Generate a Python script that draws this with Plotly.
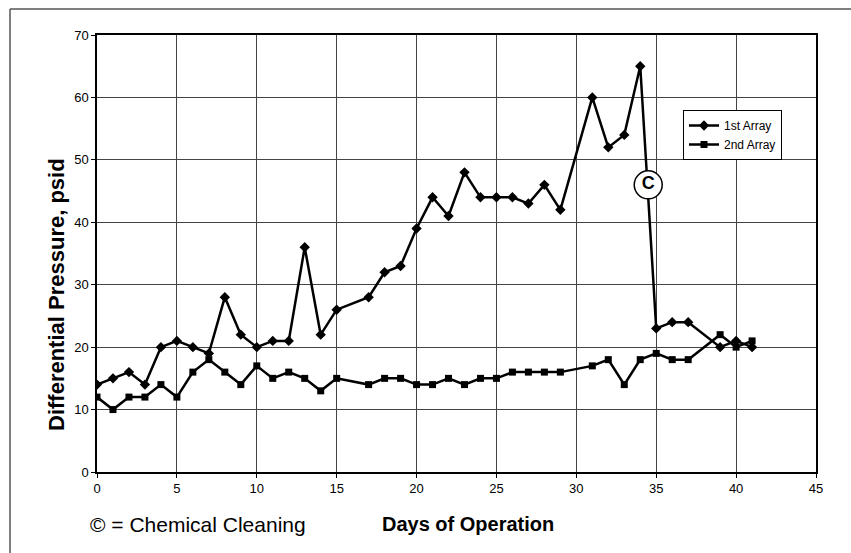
import plotly.graph_objects as go

days1 = [0, 1, 2, 3, 4, 5, 6, 7, 8, 9, 10, 11, 12, 13, 14, 15, 17, 18, 19, 20,
         21, 22, 23, 24, 25, 26, 27, 28, 29, 31, 32, 33, 34, 35, 36, 37, 39, 40, 41]
array1 = [14, 15, 16, 14, 20, 21, 20, 19, 28, 22, 20, 21, 21, 36, 22, 26, 28, 32, 33, 39,
          44, 41, 48, 44, 44, 44, 43, 46, 42, 60, 52, 54, 65, 23, 24, 24, 20, 21, 20]
days2 = days1
array2 = [12, 10, 12, 12, 14, 12, 16, 18, 16, 14, 17, 15, 16, 15, 13, 15, 14, 15, 15, 14,
          14, 15, 14, 15, 15, 16, 16, 16, 16, 17, 18, 14, 18, 19, 18, 18, 22, 20, 21]
x_ticks = [0, 5, 10, 15, 20, 25, 30, 35, 40, 45]
y_ticks = [0, 10, 20, 30, 40, 50, 60, 70]
cleaning_day = 34.5
cleaning_y = 46

W, H = 851, 553
L, R, T, B = 97, 816, 35, 472

def px(xp):
    return (xp - L) / (R - L)

def py(yp):
    return (B - yp) / (B - T)

FONT = "Liberation Sans, Arial, sans-serif"

fig = go.Figure()
fig.add_trace(go.Scatter(
    x=days1, y=array1, name="1st Array", mode="lines+markers",
    line=dict(color="black", width=2.5),
    marker=dict(symbol="diamond", size=8, color="black"),
))
fig.add_trace(go.Scatter(
    x=days2, y=array2, name="2nd Array", mode="lines+markers",
    line=dict(color="black", width=2.5),
    marker=dict(symbol="square", size=7, color="black"),
))

# chemical cleaning marker
fig.add_trace(go.Scatter(
    x=[cleaning_day], y=[cleaning_y], mode="markers+text", showlegend=False,
    marker=dict(symbol="circle", size=28, color="white", line=dict(color="black", width=1.5)),
    text=["<b>C</b>"], textposition="middle center",
    textfont=dict(family=FONT, size=18, color="black"),
))

fig.update_xaxes(
    range=[0, 45], tickvals=x_ticks, showgrid=True, gridcolor="#444", gridwidth=1,
    showline=True, linecolor="black", linewidth=1.5, mirror=True,
    ticks="outside", ticklen=4, tickcolor="black", zeroline=False,
    tickfont=dict(family=FONT, size=13, color="black"),
)
fig.update_yaxes(
    range=[0, 70], tickvals=y_ticks, showgrid=True, gridcolor="#444", gridwidth=1,
    showline=True, linecolor="black", linewidth=1.5, mirror=True,
    ticks="outside", ticklen=4, tickcolor="black", zeroline=False,
    tickfont=dict(family=FONT, size=13, color="black"),
)

fig.update_layout(
    width=W, height=H,
    margin=dict(l=L, r=W - R, t=T, b=H - B),
    plot_bgcolor="white", paper_bgcolor="white",
    font=dict(family=FONT, color="black"),
    legend=dict(
        x=px(683), y=py(110), xanchor="left", yanchor="top",
        bgcolor="white", bordercolor="black", borderwidth=1,
        font=dict(family=FONT, size=12, color="black"),
        itemwidth=30,
    ),
    annotations=[
        dict(text="<b>Differential Pressure, psid</b>", x=px(56), y=py(295),
             xref="paper", yref="paper", showarrow=False, textangle=-90,
             xanchor="center", yanchor="middle",
             font=dict(family=FONT, size=22, color="black")),
        dict(text="<b>Days of Operation</b>", x=px(468), y=py(524),
             xref="paper", yref="paper", showarrow=False,
             xanchor="center", yanchor="middle",
             font=dict(family=FONT, size=20, color="black")),
        dict(text="© = Chemical Cleaning", x=px(198), y=py(524),
             xref="paper", yref="paper", showarrow=False,
             xanchor="center", yanchor="middle",
             font=dict(family=FONT, size=21, color="black")),
    ],
    shapes=[
        dict(type="line", xref="paper", yref="paper", x0=px(10), x1=px(851),
             y0=py(9), y1=py(9), line=dict(color="#555", width=1.5)),
        dict(type="line", xref="paper", yref="paper", x0=px(10), x1=px(10),
             y0=py(9), y1=py(553), line=dict(color="#555", width=1.5)),
    ],
)

fig.write_html(
    "out.html",
    config={"displayModeBar": False},
    post_script="document.body.style.margin='0px';document.body.style.overflow='hidden';",
)
